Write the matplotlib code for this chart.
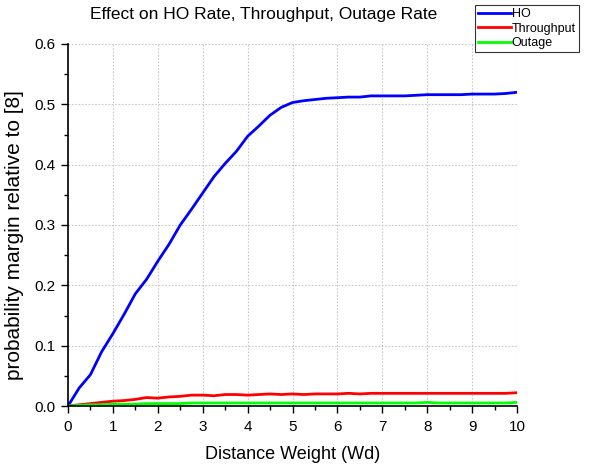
import matplotlib
matplotlib.use("Agg")
import matplotlib.pyplot as plt
from matplotlib.ticker import MultipleLocator, FormatStrFormatter

plt.rcParams['font.family'] = ['Liberation Sans', 'DejaVu Sans']

wd = [0, 0.25, 0.5, 0.75, 1.0, 1.25, 1.5, 1.75, 2.0, 2.25, 2.5, 2.75, 3.0, 3.25,
      3.5, 3.75, 4.0, 4.25, 4.5, 4.75, 5.0, 5.25, 5.5, 5.75, 6.0, 6.25, 6.5, 6.75,
      7.0, 7.25, 7.5, 7.75, 8.0, 8.25, 8.5, 8.75, 9.0, 9.25, 9.5, 9.75, 10.0]
ho = [0.0, 0.030, 0.052, 0.090, 0.120, 0.152, 0.186, 0.210, 0.240, 0.268, 0.300,
      0.326, 0.353, 0.380, 0.402, 0.422, 0.447, 0.464, 0.482, 0.495, 0.503, 0.506,
      0.508, 0.510, 0.511, 0.512, 0.512, 0.514, 0.514, 0.514, 0.514, 0.515, 0.516,
      0.516, 0.516, 0.516, 0.517, 0.517, 0.517, 0.518, 0.520]
throughput = [0.0, 0.002, 0.004, 0.006, 0.008, 0.009, 0.011, 0.014, 0.013, 0.015,
              0.016, 0.018, 0.018, 0.017, 0.019, 0.019, 0.018, 0.019, 0.020, 0.019,
              0.020, 0.019, 0.020, 0.020, 0.020, 0.021, 0.020, 0.021, 0.021, 0.021,
              0.021, 0.021, 0.021, 0.021, 0.021, 0.021, 0.021, 0.021, 0.021, 0.021,
              0.022]
outage = [0.0, 0.001, 0.002, 0.002, 0.003, 0.003, 0.003, 0.004, 0.004, 0.004,
          0.004, 0.005, 0.005, 0.005, 0.005, 0.005, 0.005, 0.005, 0.005, 0.005,
          0.005, 0.005, 0.005, 0.005, 0.005, 0.005, 0.005, 0.005, 0.005, 0.005,
          0.005, 0.005, 0.006, 0.005, 0.005, 0.005, 0.005, 0.005, 0.005, 0.005,
          0.006]

fig = plt.figure(figsize=(5.92, 4.68), dpi=100)
ax = fig.add_axes([68/592, 1-406/468, (517-68)/592, (406-44)/468])

l1, = ax.plot(wd, ho, color='#0000ff', lw=2.0, label='HO')
l2, = ax.plot(wd, throughput, color='#ff0000', lw=2.0, label='Throughput')
l3, = ax.plot(wd, outage, color='#00ff00', lw=2.0, label='Outage')

ax.set_xlim(0, 10)
ax.set_ylim(0, 0.6)
ax.xaxis.set_major_locator(MultipleLocator(1))
ax.xaxis.set_minor_locator(MultipleLocator(0.5))
ax.yaxis.set_major_locator(MultipleLocator(0.1))
ax.yaxis.set_minor_locator(MultipleLocator(0.05))
ax.yaxis.set_major_formatter(FormatStrFormatter('%.1f'))
ax.tick_params(which='major', direction='out', length=5, width=1, labelsize=11, colors='black', pad=4)
ax.tick_params(axis='x', which='major', pad=5)
ax.tick_params(which='minor', direction='out', length=3, width=1)
for s in ['top', 'right']:
    ax.spines[s].set_visible(False)
for s in ['left', 'bottom']:
    ax.spines[s].set_linewidth(1.2)
ax.grid(True, which='major', color='#c8c8c8', linestyle=(0, (1.5, 1.5)), linewidth=0.8)
ax.set_axisbelow(True)

ax.set_xlabel('Distance Weight (Wd)', fontsize=13, labelpad=9)
ax.set_ylabel('probability margin relative to [8]', fontsize=15)
ax.yaxis.set_label_coords(-0.098, 0.472)
fig.text(264/592, 1-14/468, 'Effect on HO Rate, Throughput, Outage Rate',
         ha='center', va='center', fontsize=12.5)

leg = fig.legend(handles=[l1, l2, l3], loc='upper left',
                 bbox_to_anchor=(475/592, 1-5/468), bbox_transform=fig.transFigure,
                 fontsize=9, frameon=True, fancybox=False, edgecolor='black',
                 handlelength=2.6, handletextpad=0.1, labelspacing=0.2,
                 borderpad=0.25, borderaxespad=0)
leg.get_frame().set_linewidth(0.8)

fig.savefig('out.png', dpi=100)
